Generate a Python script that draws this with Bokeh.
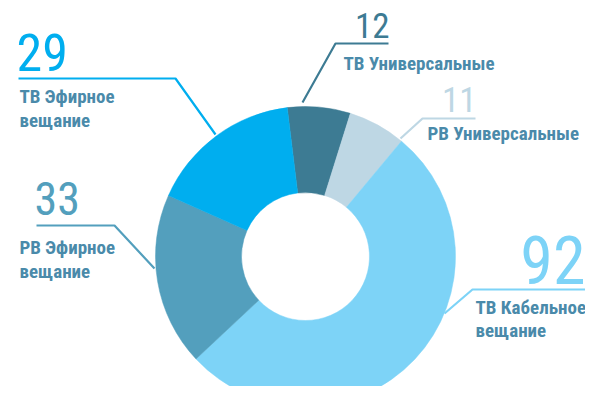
import math
from bokeh.plotting import figure
from bokeh.models import Range1d, ColumnDataSource
from bokeh.core.properties import value
from bokeh.embed import file_html
from bokeh.resources import INLINE

# ---- data ----
categories = ["ТВ Универсальные", "РВ Универсальные", "ТВ Кабельное вещание",
              "РВ Эфирное вещание", "ТВ Эфирное вещание"]
values = [12, 11, 92, 33, 29]
colors = ["#3d7b93", "#bed7e4", "#7dd3f7", "#539fbd", "#00aeef"]
label_lines = [["ТВ Универсальные"], ["РВ Универсальные"], ["ТВ Кабельное", "вещание"],
               ["РВ Эфирное", "вещание"], ["ТВ Эфирное", "вещание"]]

W, H = 585, 386
PAGE_H = 402
def Y(py):
    return PAGE_H - py

p = figure(width=W, height=H, output_backend="svg", toolbar_location=None,
           x_range=Range1d(0, W), y_range=Range1d(PAGE_H - H, PAGE_H),
           min_border=0, outline_line_color=None)
p.axis.visible = False
p.grid.visible = False
p.background_fill_color = "white"
p.border_fill_color = "white"

# ---- donut ----
cx, cy = 305, Y(256)
total = sum(values)
start_deg = -7.0
starts, ends = [], []
acc = start_deg
for v in values:
    s = acc
    e = acc + v / total * 360.0
    starts.append(math.radians(90 - s))
    ends.append(math.radians(90 - e))
    acc = e
src = ColumnDataSource(dict(start=starts, end=ends, color=colors))
p.annular_wedge(x=cx, y=cy, inner_radius=64, outer_radius=150, start_angle="start",
                end_angle="end", direction="clock", fill_color="color",
                line_color="color", line_width=0.5, source=src)

# ---- annotations (layout) ----
NUM_FONT = "Roboto Condensed"
LAB_FONT = "Roboto Condensed"
LAB_COLOR = "#4a8aaa"
LAB_SIZE = 19
BASE_SHIFT = 0.36  # empirical baseline correction (fraction of font size)

layout = [
    dict(num=(389, 38, "right", 35), leader=[(388, 43), (335, 43), (302, 102)], lab=(343, 70), step=24),
    dict(num=(476, 112, "right", 35), leader=[(475, 118), (422, 118), (400, 138)], lab=(427, 140), step=24),
    dict(num=(585, 283, "right", 66), leader=[(590, 289), (472, 289), (444, 313)], lab=(475, 314), step=23),
    dict(num=(34, 215, "left", 46), leader=[(36, 225), (114, 225), (154, 268)], lab=(19, 254), step=24),
    dict(num=(16, 71, "left", 52), leader=[(18, 78), (175, 78), (215, 134)], lab=(19, 103), step=24),
]

for v, col, lines, L in zip(values, colors, label_lines, layout):
    nx, nb, na, ns = L["num"]
    p.text(x=[nx], y=[Y(nb - BASE_SHIFT * ns)], text=[str(v)], text_font=value(NUM_FONT),
           text_font_size=f"{ns}px", text_color=col, text_align=na,
           text_baseline="alphabetic")
    xs = [pt[0] for pt in L["leader"]]
    ys = [Y(pt[1]) for pt in L["leader"]]
    p.line(xs, ys, line_color=col, line_width=2.2)
    lx, lb = L["lab"]
    for i, t in enumerate(lines):
        p.text(x=[lx], y=[Y(lb + i * L["step"] - BASE_SHIFT * LAB_SIZE)], text=[t],
               text_font=value(LAB_FONT), text_font_size=f"{LAB_SIZE}px",
               text_font_style="bold", text_color=LAB_COLOR,
               text_align="left", text_baseline="alphabetic")

open("out.html", "w").write(file_html(p, INLINE))
